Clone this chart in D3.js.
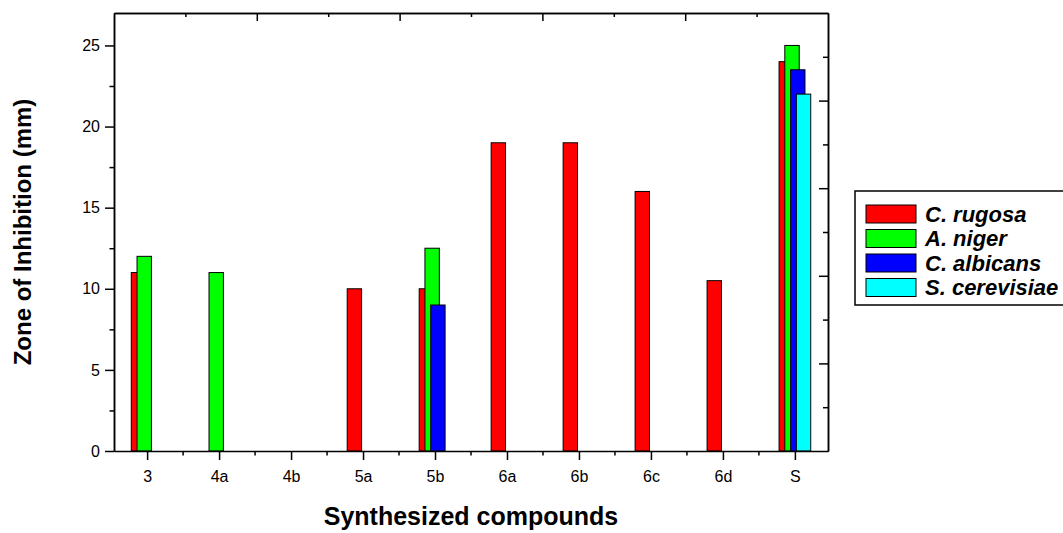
<!DOCTYPE html>
<html>

<head>
    <meta charset="utf-8">
    <title>Zone of Inhibition - antifungal</title>
    <script type="text/javascript" src="https://d3js.org/d3.v7.min.js"></script>

    <style>
        body {
            margin: 0;
            background: #fff;
        }

        svg {
            display: block;
            font-family: "Liberation Sans", Arial, sans-serif;
        }

        .axis path,
        .axis line {
            stroke: #000;
            stroke-width: 1.5;
        }

        .axis text {
            font-size: 16px;
            fill: #000;
        }
    </style>

</head>

<body>
</body>

<script type="text/javascript">
    //Width and height
    var w = 1063;
    var h = 533;

    //Chart data
    var categories = ["3", "4a", "4b", "5a", "5b", "6a", "6b", "6c", "6d", "S"];
    var seriesNames = ["C. rugosa", "A. niger", "C. albicans", "S. cerevisiae"];
    var cRugosa = [11, null, null, 10, 10, 19, 19, 16, 10.5, 24];
    var aNiger = [12, 11, null, null, 12.5, null, null, null, null, 25];
    var cAlbicans = [null, null, null, null, 9, null, null, null, null, 23.5];
    var sCerevisiae = [null, null, null, null, null, null, null, null, null, 22];
    var yTicks = [0, 5, 10, 15, 20, 25];
    var yMinorTicks = [2.5, 7.5, 12.5, 17.5, 22.5];

    var seriesValues = [cRugosa, aNiger, cAlbicans, sCerevisiae];
    var colors = ["#ff0000", "#00ff00", "#0000ff", "#00ffff"];

    //Plot area (plotTop, not top: window.top is taken)
    var plotLeft = 114,
        plotRight = 828,
        plotTop = 13,
        plotBottom = 451;

    var x = d3.scalePoint()
        .domain(categories)
        .range([plotLeft, plotRight])
        .padding(0.46);

    var y = d3.scaleLinear()
        .domain([0, 27])
        .range([plotBottom, plotTop]);

    //secondary scales for the top and right frame ticks
    var x2 = d3.scaleLinear().domain([0, 10]).range([plotLeft, plotRight]);
    var y2 = d3.scaleLinear().domain([0, 10]).range([plotBottom, plotTop]);

    var barW = x.step() * 0.2;
    var barShift = x.step() * 0.08;

    //Create SVG element
    var svg = d3.select("body")
        .append("svg")
        .attr("width", w)
        .attr("height", h);

    //Bars, one series after the other so later ones sit on top
    seriesValues.forEach(function(values, j) {
        var rows = categories.map(function(c, i) {
            return { cat: c, value: values[i] };
        }).filter(function(d) {
            return d.value != null;
        });

        svg.append("g")
            .selectAll("rect")
            .data(rows)
            .enter()
            .append("rect")
            .attr("x", function(d) {
                return x(d.cat) - barW / 2 + (j - 1.5) * barShift;
            })
            .attr("y", function(d) {
                return y(d.value);
            })
            .attr("width", barW)
            .attr("height", function(d) {
                return y(0) - y(d.value);
            })
            .style("fill", colors[j])
            .style("stroke", "#000")
            .style("stroke-width", 1);
    });

    //Left axis
    svg.append("g")
        .attr("class", "axis")
        .attr("transform", "translate(" + plotLeft + ",0)")
        .call(d3.axisLeft(y).tickValues(yTicks).tickSize(9).tickPadding(5).tickSizeOuter(0));

    svg.append("g")
        .attr("class", "axis")
        .attr("transform", "translate(" + plotLeft + ",0)")
        .call(d3.axisLeft(y).tickValues(yMinorTicks).tickSize(4.5).tickFormat("").tickSizeOuter(0));

    //Bottom axis
    svg.append("g")
        .attr("class", "axis")
        .attr("transform", "translate(0," + plotBottom + ")")
        .call(d3.axisBottom(x).tickSize(9).tickPadding(11).tickSizeOuter(0));

    //minor ticks halfway between compounds
    svg.append("g")
        .selectAll("line")
        .data(categories.slice(0, -1))
        .enter()
        .append("line")
        .attr("x1", function(d) {
            return x(d) + x.step() / 2;
        })
        .attr("x2", function(d) {
            return x(d) + x.step() / 2;
        })
        .attr("y1", plotBottom)
        .attr("y2", plotBottom + 4.5)
        .style("stroke", "#000")
        .style("stroke-width", 1.5);

    //Top frame with inward ticks
    svg.append("g")
        .attr("class", "axis")
        .attr("transform", "translate(0," + plotTop + ")")
        .call(d3.axisBottom(x2).tickValues([2, 4, 6, 8]).tickSize(8).tickFormat("").tickSizeOuter(0));

    svg.append("g")
        .attr("class", "axis")
        .attr("transform", "translate(0," + plotTop + ")")
        .call(d3.axisBottom(x2).tickValues([1, 3, 5, 7, 9]).tickSize(4).tickFormat("").tickSizeOuter(0));

    //Right frame with inward ticks
    svg.append("g")
        .attr("class", "axis")
        .attr("transform", "translate(" + plotRight + ",0)")
        .call(d3.axisLeft(y2).tickValues([2, 4, 6, 8]).tickSize(9).tickFormat("").tickSizeOuter(0));

    svg.append("g")
        .attr("class", "axis")
        .attr("transform", "translate(" + plotRight + ",0)")
        .call(d3.axisLeft(y2).tickValues([1, 3, 5, 7, 9]).tickSize(5).tickFormat("").tickSizeOuter(0));

    //Axis titles
    svg.append("text")
        .attr("x", (plotLeft + plotRight) / 2)
        .attr("y", 525)
        .attr("text-anchor", "middle")
        .style("font-size", "25px")
        .style("font-weight", "bold")
        .text("Synthesized compounds");

    svg.append("text")
        .attr("transform", "translate(31," + (plotTop + plotBottom) / 2 + ") rotate(-90)")
        .attr("text-anchor", "middle")
        .style("font-size", "24px")
        .style("font-weight", "bold")
        .text("Zone of Inhibition (mm)");

    //Legend
    var legend = svg.append("g")
        .attr("transform", "translate(855,191)");

    legend.append("rect")
        .attr("width", 220)
        .attr("height", 114)
        .style("fill", "#fff")
        .style("stroke", "#000")
        .style("stroke-width", 1.5);

    var items = legend.selectAll("g.item")
        .data(seriesNames)
        .enter()
        .append("g")
        .attr("class", "item")
        .attr("transform", function(d, i) {
            return "translate(11," + (14 + i * 24.5) + ")";
        });

    items.append("rect")
        .attr("width", 50)
        .attr("height", 18)
        .style("fill", function(d, i) {
            return colors[i];
        })
        .style("stroke", "#000")
        .style("stroke-width", 1);

    items.append("text")
        .attr("x", 59)
        .attr("y", 16.5)
        .style("font-size", "22px")
        .style("font-weight", "bold")
        .style("font-style", "italic")
        .text(function(d) {
            return d;
        });
</script>

</html>
